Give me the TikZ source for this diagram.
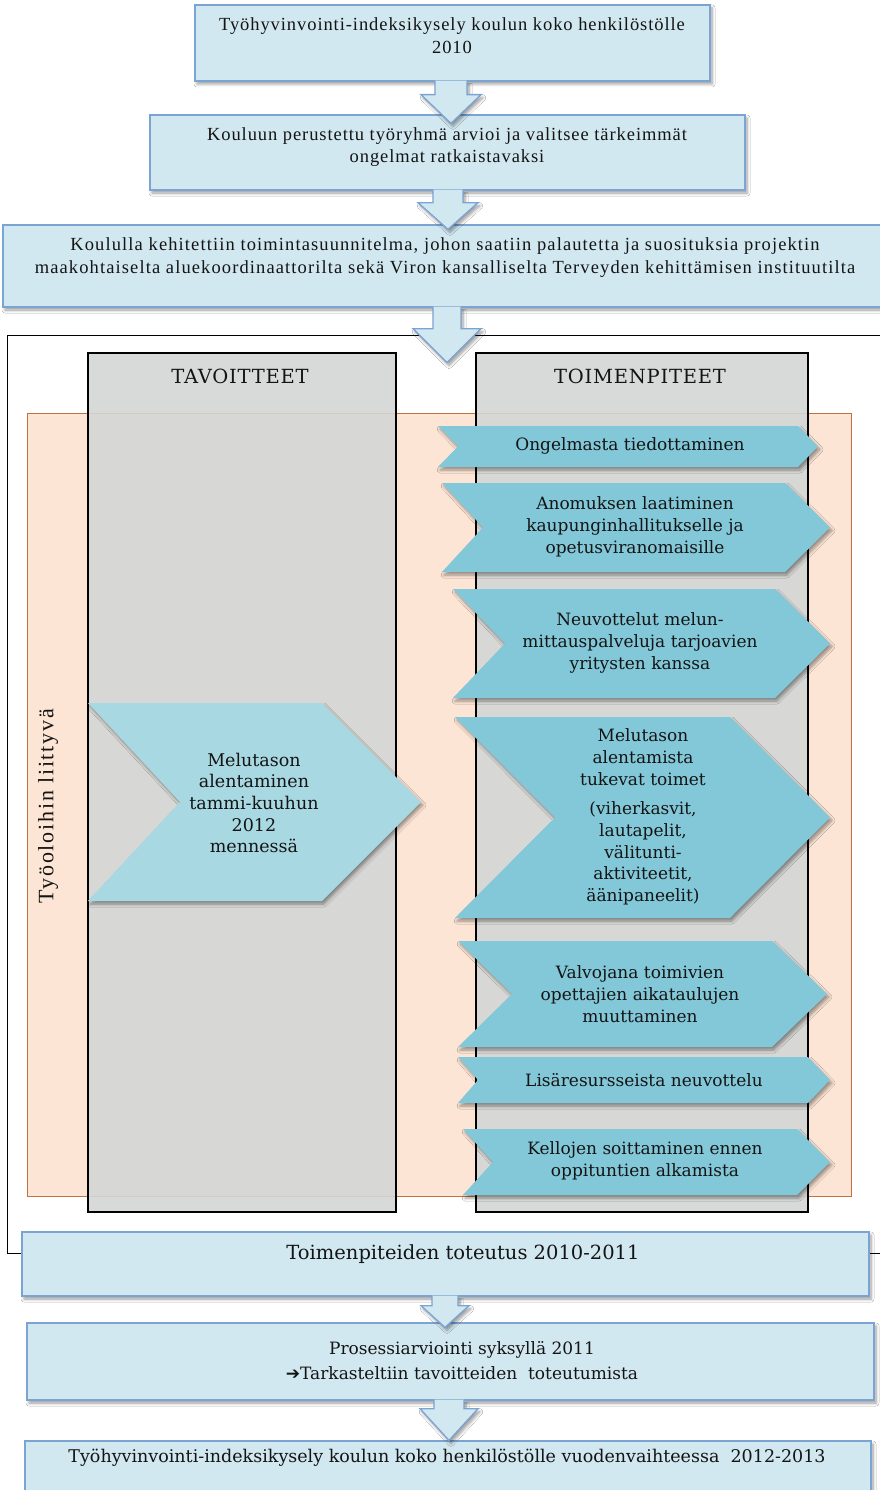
\documentclass[tikz,border=0pt]{standalone}
\usepackage{fontspec}
\setmainfont{Liberation Serif}
\newfontfamily\flowfont[LetterSpace=5]{Liberation Serif}
\newfontfamily\slabfont{DejaVu Serif}
\newfontfamily\sidefont[LetterSpace=8]{Liberation Serif}
\newfontfamily\symbolfont{DejaVu Sans}
\usetikzlibrary{calc,shadows.blur}

\definecolor{boxfill}{HTML}{D2E8F0}
\definecolor{boxline}{HTML}{7CA4D2}
\definecolor{bandfill}{HTML}{FCE5D5}
\definecolor{bandline}{HTML}{C0713D}
\definecolor{colfill}{HTML}{D4D6D5}
\definecolor{chevblue}{HTML}{83C8D8}
\definecolor{goalblue}{HTML}{A8D9E3}
\definecolor{inktext}{HTML}{141414}

\tikzset{
  softshadow/.style={blur shadow={shadow xshift=2pt, shadow yshift=-3pt,
      shadow blur radius=3pt, shadow blur steps=6, shadow opacity=40}},
  flowbox/.style={draw=boxline, line width=1.3pt, fill=boxfill, inner sep=0pt, softshadow},
  blockarrow/.style={draw=boxline, line width=1.3pt, fill=boxfill, line join=miter, softshadow},
  outerframe/.style={draw=black, line width=1pt, inner sep=0pt},
  band/.style={draw=bandline, line width=1pt, fill=bandfill, inner sep=0pt},
  column/.style={draw=black, line width=1.2pt, fill=colfill, fill opacity=0.9, inner sep=0pt},
  flowtext/.style={align=center, inner sep=0pt, text=inktext,
      font=\flowfont\fontsize{18.5}{22.5}\selectfont},
  slabtext/.style={align=center, inner sep=0pt, text=inktext,
      font=\slabfont\fontsize{17}{21.7}\selectfont},
  headtext/.style={inner sep=0pt, text=inktext,
      font=\slabfont\addfontfeature{LetterSpace=4}\fontsize{19.5}{22}\selectfont},
  actchev/.style={fill=chevblue, softshadow},
  goalchev/.style={fill=goalblue, softshadow},
}

% block arrow from the bottom of one node into the top of the next
% #1 from, #2 to, #3 centre x, #4 shaft half width, #5 head half width,
% #6 head start below #1, #7 tip depth below top of #2
\newcommand\blockarrow[7]{%
  \path[blockarrow] let \p1=(#1.south), \p2=(#2.north) in
    ({#3-#4},{\y1+1pt}) -- ({#3-#4},{\y1-#6}) -- ({#3-#5},{\y1-#6})
    -- (#3,{\y2-#7}) -- ({#3+#5},{\y1-#6}) -- ({#3+#4},{\y1-#6})
    -- ({#3+#4},{\y1+1pt});}

% chevron: style, left x, top y, shoulder x, tip x, bottom y, notch x
\newcommand\chevronshape[7]{%
  \path[#1] (#2,#3) -- (#4,#3) -- (#5,{(#3+#6)/2}) -- (#4,#6) -- (#2,#6)
    -- (#7,{(#3+#6)/2}) -- cycle;}

\begin{document}
\begin{tikzpicture}[x=1pt,y=-1pt]
\useasboundingbox (0,0) rectangle (880,1490);
\clip (0,0) rectangle (880,1490);
\fill[white] (0,0) rectangle (880,1490);

% outer frame around goals and actions
\node[outerframe, minimum width=883pt, minimum height=918pt] (frame) at (448.5,794) {};

% planning steps
\node[flowbox, minimum width=515pt, minimum height=76pt] (b1) at (452.5,43) {};
\node[flowbox, minimum width=595pt, minimum height=75pt] (b2) at (447.5,152.5) {};
\node[flowbox, minimum width=887pt, minimum height=82pt] (b3) at (446.5,266) {};
\blockarrow{b1}{b2}{451}{16}{30}{13pt}{9pt}
\blockarrow{b2}{b3}{448}{15}{30}{12pt}{5pt}
\node[flowtext] (t1) at (452,35.5) {Työhyvinvointi-indeksikysely koulun koko henkilöstölle\\2010};
\node[flowtext] (t2) at (447,147) {Kouluun perustettu työryhmä arvioi ja valitsee tärkeimmät\\ongelmat ratkaistavaksi};
\node[flowtext, font=\flowfont\addfontfeature{LetterSpace=6}\fontsize{18.5}{22.5}\selectfont] (t3) at (445,257.5) {Koululla kehitettiin toimintasuunnitelma, johon saatiin palautetta ja suosituksia projektin\\maakohtaiselta aluekoordinaattorilta sekä Viron kansalliselta Terveyden kehittämisen instituutilta};

% work-conditions band and the two columns
\node[band, minimum width=824pt, minimum height=783pt] (band) at (439,804.5) {};
\node[column, minimum width=308pt, minimum height=859pt] (goals) at (242,782.5) {};
\node[column, minimum width=332pt, minimum height=859pt] (actions) at (642,782.5) {};
\blockarrow{b3}{frame}{447}{14}{34}{21pt}{28pt}

\node[headtext] (goalhead) at (240,376) {TAVOITTEET};
\node[headtext] (acthead) at (640,376) {TOIMENPITEET};
\node[rotate=90, inner sep=0pt, text=inktext, font=\sidefont\fontsize{22}{24}\selectfont] (side) at (48,806) {Työoloihin liittyvä};

% goal
\chevronshape{goalchev}{88}{703}{322}{421}{901}{180}
\node[slabtext, font=\slabfont\fontsize{17.5}{21.7}\selectfont] (goal) at (254,803) {Melutason\\alentaminen\\tammi-kuuhun\\2012\\mennessä};

% actions
\chevronshape{actchev}{438}{426}{798}{818}{467}{458}
\node[slabtext] (a1) at (630,446) {Ongelmasta tiedottaminen};
\chevronshape{actchev}{442}{483}{785}{830}{572}{483}
\node[slabtext] (a2) at (635,527) {Anomuksen laatiminen\\kaupunginhallitukselle ja\\opetusviranomaisille};
\chevronshape{actchev}{453}{589}{775}{830}{698}{505}
\node[slabtext] (a3) at (640,643) {Neuvottelut melun-\\mittauspalveluja tarjoavien\\yritysten kanssa};
\chevronshape{actchev}{455}{717}{730}{830}{918}{555}
\node[slabtext] (a4) at (643,817) {Melutason\\alentamista\\tukevat toimet\\[8pt](viherkasvit,\\lautapelit,\\välitunti-\\aktiviteetit,\\äänipaneelit)};
\chevronshape{actchev}{458}{941}{772}{827}{1047}{512}
\node[slabtext] (a5) at (640,994) {Valvojana toimivien\\opettajien aikataulujen\\muuttaminen};
\chevronshape{actchev}{458}{1057}{808}{830}{1103}{478}
\node[slabtext] (a6) at (644,1080) {Lisäresursseista neuvottelu};
\chevronshape{actchev}{463}{1129}{797}{830}{1195}{493}
\node[slabtext] (a7) at (645,1161) {Kellojen soittaminen ennen\\oppituntien alkamista};

% implementation and evaluation
\node[flowbox, minimum width=847pt, minimum height=64pt] (b4) at (445.5,1264) {};
\node[flowbox, minimum width=847pt, minimum height=77pt] (b5) at (450.5,1361.5) {};
\node[flowbox, minimum width=846pt, minimum height=69pt] (b6) at (448,1475.5) {};
\blockarrow{b4}{b5}{445}{13}{24}{9pt}{5pt}
\blockarrow{b5}{b6}{449}{15}{29}{8pt}{0pt}
\node[slabtext, font=\slabfont\fontsize{19.5}{22}\selectfont] (t4) at (463,1254) {Toimenpiteiden toteutus 2010-2011};
\node[slabtext, font=\slabfont\fontsize{17}{25}\selectfont] (t5) at (462,1360.5) {Prosessiarviointi syksyllä 2011\\{\symbolfont ➔}Tarkasteltiin tavoitteiden\ \ toteutumista};
\node[slabtext, font=\slabfont\fontsize{17.5}{22}\selectfont] (t6) at (447,1458) {Työhyvinvointi-indeksikysely koulun koko henkilöstölle vuodenvaihteessa\ \ 2012-2013};
\end{tikzpicture}
\end{document}
